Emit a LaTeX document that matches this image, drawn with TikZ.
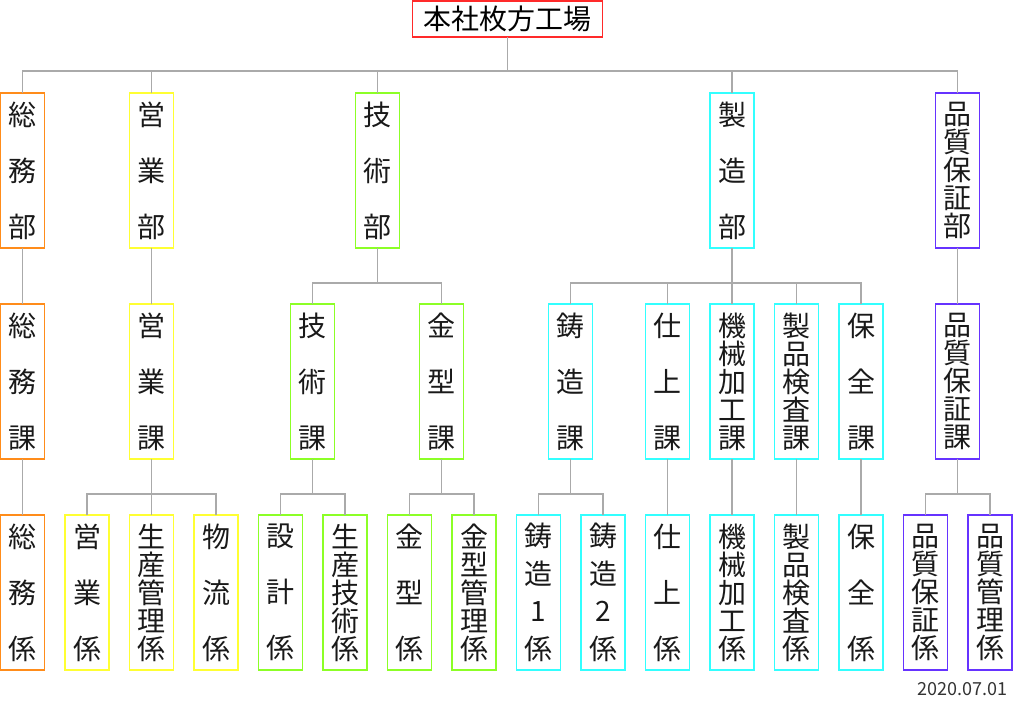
\documentclass[tikz,border=0pt]{standalone}
\usepackage{fontspec}
\setmainfont{Noto Sans CJK JP}
\usetikzlibrary{positioning, calc}

\definecolor{linegray}{HTML}{AAAAAA}
\definecolor{honshared}{HTML}{FF2A2A}
\definecolor{soumuorange}{HTML}{FF8C1A}
\definecolor{eigyoyellow}{HTML}{FFFF33}
\definecolor{gijutsugreen}{HTML}{8CFF26}
\definecolor{seizocyan}{HTML}{33FFFF}
\definecolor{hoshopurple}{HTML}{6633FF}

\begin{document}
\begin{tikzpicture}[
    box/.style={draw, line width=1.3pt, minimum width=44pt,
        minimum height=155pt, inner sep=0pt, outer sep=0pt,
        align=center, text=black!90},
    three/.style={font=\fontsize{28pt}{56pt}\selectfont},
    four/.style={font=\fontsize{28pt}{37.7pt}\selectfont},
    five/.style={font=\fontsize{28pt}{28pt}\selectfont},
    conn/.style={draw=linegray, line width=1.2pt}
]
    \useasboundingbox (0,0) rectangle (1024pt,-708pt);

    % top
    \node[
        draw=honshared,
        line width=1.3pt,
        outer sep=0pt,
        minimum width=190pt,
        minimum height=36pt,
        font=\fontsize{28pt}{28pt}\selectfont] (honsha) at (507.5pt,-19pt) {本社枚方工場};

    % 係
    \node[box, three, draw=soumuorange] (soumuK) at (22.5pt,-592.5pt) {総\\務\\係};
    \node[box, three, draw=eigyoyellow, right=20.5pt of soumuK] (eigyoK) {営\\業\\係};
    \node[box, five, draw=eigyoyellow, right=20.5pt of eigyoK] (seisanK) {生\\産\\管\\理\\係};
    \node[box, three, draw=eigyoyellow, right=20.5pt of seisanK] (butsuryuK) {物\\流\\係};
    \node[box, three, draw=gijutsugreen, right=20.5pt of butsuryuK] (sekkeiK) {設\\計\\係};
    \node[box, five, draw=gijutsugreen, right=20.5pt of sekkeiK] (gijutsuK) {生\\産\\技\\術\\係};
    \node[box, three, draw=gijutsugreen, right=20.5pt of gijutsuK] (kanagataK) {金\\型\\係};
    \node[box, five, draw=gijutsugreen, right=20.5pt of kanagataK] (kanriK) {金\\型\\管\\理\\係};
    \node[box, four, draw=seizocyan, right=20.5pt of kanriK] (chuzo1K) {鋳\\造\\1\\係};
    \node[box, four, draw=seizocyan, right=20.5pt of chuzo1K] (chuzo2K) {鋳\\造\\2\\係};
    \node[box, three, draw=seizocyan, right=20.5pt of chuzo2K] (shiageK) {仕\\上\\係};
    \node[box, five, draw=seizocyan, right=20.5pt of shiageK] (kikaiK) {機\\械\\加\\工\\係};
    \node[box, five, draw=seizocyan, right=20.5pt of kikaiK] (kensaK) {製\\品\\検\\査\\係};
    \node[box, three, draw=seizocyan, right=20.5pt of kensaK] (hozenK) {保\\全\\係};
    \node[box, five, draw=hoshopurple, right=20.5pt of hozenK] (hoshoK) {品\\質\\保\\証\\係};
    \node[box, five, draw=hoshopurple, right=20.5pt of hoshoK] (hinkanK) {品\\質\\管\\理\\係};

    % 課
    \node[box, three, draw=soumuorange, above=56pt of soumuK] (soumuKa) {総\\務\\課};
    \node[box, three, draw=eigyoyellow, above=56pt of seisanK] (eigyoKa) {営\\業\\課};
    \node[box, three, draw=gijutsugreen, anchor=south]
        (gijutsuKa) at ($(sekkeiK.north)!.5!(gijutsuK.north)+(0,56pt)$) {技\\術\\課};
    \node[box, three, draw=gijutsugreen, anchor=south]
        (kanagataKa) at ($(kanagataK.north)!.5!(kanriK.north)+(0,56pt)$) {金\\型\\課};
    \node[box, three, draw=seizocyan, anchor=south]
        (chuzoKa) at ($(chuzo1K.north)!.5!(chuzo2K.north)+(0,56pt)$) {鋳\\造\\課};
    \node[box, three, draw=seizocyan, above=56pt of shiageK] (shiageKa) {仕\\上\\課};
    \node[box, five, draw=seizocyan, above=56pt of kikaiK] (kikaiKa) {機\\械\\加\\工\\課};
    \node[box, five, draw=seizocyan, above=56pt of kensaK] (kensaKa) {製\\品\\検\\査\\課};
    \node[box, three, draw=seizocyan, above=56pt of hozenK] (hozenKa) {保\\全\\課};
    \node[box, five, draw=hoshopurple, anchor=south]
        (hoshoKa) at ($(hoshoK.north)!.5!(hinkanK.north)+(0,56pt)$) {品\\質\\保\\証\\課};

    % 部
    \node[box, three, draw=soumuorange, above=56pt of soumuKa] (soumuBu) {総\\務\\部};
    \node[box, three, draw=eigyoyellow, above=56pt of eigyoKa] (eigyoBu) {営\\業\\部};
    \node[box, three, draw=gijutsugreen, anchor=south]
        (gijutsuBu) at ($(gijutsuKa.north)!.5!(kanagataKa.north)+(0,56pt)$) {技\\術\\部};
    \node[box, three, draw=seizocyan, above=56pt of kikaiKa] (seizoBu) {製\\造\\部};
    \node[box, five, draw=hoshopurple, above=56pt of hoshoKa] (hoshoBu) {品\\質\\保\\証\\部};

    \node[anchor=east, text=black!80,
        font=\fontsize{18pt}{18pt}\selectfont] (date) at (1011pt,-689pt) {2020.07.01};

    % connectors
    \draw[conn] (soumuBu.north) -- ++(0,22pt) -| (honsha.south);
    \draw[conn] (eigyoBu.north) -- ++(0,22pt) -| (honsha.south);
    \draw[conn] (gijutsuBu.north) -- ++(0,22pt) -| (honsha.south);
    \draw[conn] (seizoBu.north) -- ++(0,22pt) -| (honsha.south);
    \draw[conn] (hoshoBu.north) -- ++(0,22pt) -| (honsha.south);

    \draw[conn] (soumuKa.north) -- (soumuBu.south);
    \draw[conn] (eigyoKa.north) -- (eigyoBu.south);
    \draw[conn] (gijutsuKa.north) -- ++(0,21pt) -| (gijutsuBu.south);
    \draw[conn] (kanagataKa.north) -- ++(0,21pt) -| (gijutsuBu.south);
    \draw[conn] (chuzoKa.north) -- ++(0,21pt) -| (seizoBu.south);
    \draw[conn] (shiageKa.north) -- ++(0,21pt) -| (seizoBu.south);
    \draw[conn] (kikaiKa.north) -- (seizoBu.south);
    \draw[conn] (kensaKa.north) -- ++(0,21pt) -| (seizoBu.south);
    \draw[conn] (hozenKa.north) -- ++(0,21pt) -| (seizoBu.south);
    \draw[conn] (hoshoKa.north) -- (hoshoBu.south);

    \draw[conn] (soumuK.north) -- (soumuKa.south);
    \draw[conn] (eigyoK.north) -- ++(0,21pt) -| (eigyoKa.south);
    \draw[conn] (seisanK.north) -- (eigyoKa.south);
    \draw[conn] (butsuryuK.north) -- ++(0,21pt) -| (eigyoKa.south);
    \draw[conn] (sekkeiK.north) -- ++(0,21pt) -| (gijutsuKa.south);
    \draw[conn] (gijutsuK.north) -- ++(0,21pt) -| (gijutsuKa.south);
    \draw[conn] (kanagataK.north) -- ++(0,21pt) -| (kanagataKa.south);
    \draw[conn] (kanriK.north) -- ++(0,21pt) -| (kanagataKa.south);
    \draw[conn] (chuzo1K.north) -- ++(0,21pt) -| (chuzoKa.south);
    \draw[conn] (chuzo2K.north) -- ++(0,21pt) -| (chuzoKa.south);
    \draw[conn] (shiageK.north) -- (shiageKa.south);
    \draw[conn] (kikaiK.north) -- (kikaiKa.south);
    \draw[conn] (kensaK.north) -- (kensaKa.south);
    \draw[conn] (hozenK.north) -- (hozenKa.south);
    \draw[conn] (hoshoK.north) -- ++(0,21pt) -| (hoshoKa.south);
    \draw[conn] (hinkanK.north) -- ++(0,21pt) -| (hoshoKa.south);
\end{tikzpicture}
\end{document}
